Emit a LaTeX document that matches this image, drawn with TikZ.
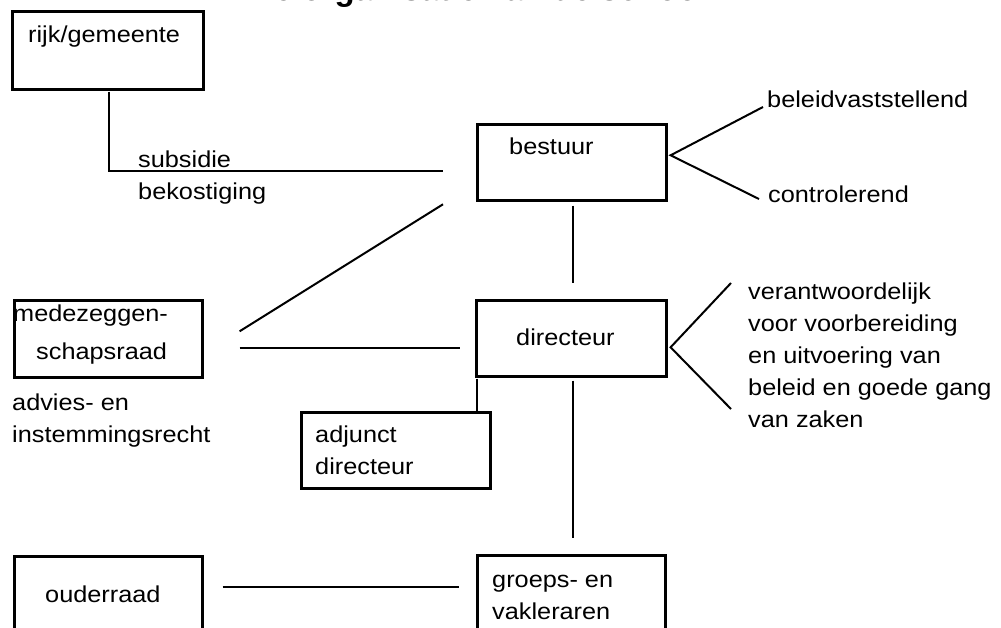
\documentclass[tikz,border=0pt]{standalone}
\usepackage{fontspec}
\setmainfont{Liberation Sans}[FakeStretch=1.1]
\newfontfamily\titelfont{Liberation Sans}
\usepackage{tikz}
\usetikzlibrary{calc}

\tikzset{
  vak/.style={rectangle, draw=black, line width=2.6pt, inner sep=0pt,
    anchor=north west},
  lijn/.style={draw=black, line width=2pt},
  tekst/.style={inner sep=0pt, anchor=base west, align=left,
    font=\fontsize{23}{32}\selectfont}
}

\begin{document}
\begin{tikzpicture}[x=1pt,y=-1pt]
\useasboundingbox (0,0) rectangle (1001,628);
\clip (0,0) rectangle (1001,628);
\node[inner sep=0pt, anchor=base west,
font=\titelfont\bfseries\fontsize{33}{40}\selectfont] (titel) at (250,1)
{De organisatie van de school};

\node[vak, minimum width=191pt, minimum height=78pt] (rijk) at (11,10) {};
\node[vak, minimum width=189pt, minimum height=76pt] (bestuur) at (476,123) {};
\node[vak, minimum width=190pt, minimum height=76pt] (directeur) at (475,299) {};
\node[vak, minimum width=188pt, minimum height=77pt] (mzr) at (13,299) {};
\node[vak, minimum width=189pt, minimum height=76pt] (adjunct) at (300,411) {};
\node[vak, minimum width=188pt, minimum height=100pt] (ouderraad) at (13,555) {};
\node[vak, minimum width=188pt, minimum height=100pt] (groeps) at (476,554) {};

% multi-line texts: base is the last line
\node[tekst] (rijktxt) at (28,43) {rijk/gemeente};
\node[tekst] (subsidie) at (138,200) {subsidie\\bekostiging};
\node[tekst] (bestuurtxt) at (509,155) {bestuur};
\node[tekst] (beleid) at (767,108) {beleidvaststellend};
\node[tekst] (controle) at (768,203) {controlerend};
\node[tekst] (directeurtxt) at (516,345) {directeur};
\node[tekst] (verantw) at (748,427) {verantwoordelijk\\voor voorbereiding\\
en uitvoering van\\beleid en goede gang\\van zaken};
\node[tekst] (mzrtxt) at (13,359) {medezeggen-\\[6pt]\hspace*{23pt}schapsraad};
\node[tekst] (advies) at (12,442) {advies- en\\instemmingsrecht};
\node[tekst] (adjuncttxt) at (315,474) {adjunct\\directeur};
\node[tekst] (ouderraadtxt) at (45,602) {ouderraad};
\node[tekst] (groepstxt) at (492,619) {groeps- en\\vakleraren};

\draw[lijn] ($(rijk.south)+(1.5,1)$) |- ($(bestuur.west)+(-33,9)$);
\draw[lijn] ($(beleid.base west)+(-4,-1)$) -- ($(bestuur.east)+(3,-7)$)
-- ($(controle.base west)+(-9,-4)$);
\draw[lijn] ($(bestuur.south)+(1.5,4)$) -- ($(bestuur.south |- directeur.north)+(1.5,-16)$);
\draw[lijn] ($(mzr.east)+(36,-7.5)$) -- ($(bestuur.west)+(-33,42)$);
\draw[lijn] ($(mzr.east)+(36,9.5)$) -- ($(directeur.west)+(-15,10)$);
\draw[lijn] ($(verantw.base west)+(-17,-144)$) -- ($(directeur.east)+(3,9)$)
-- ($(verantw.base west)+(-17,-18)$);
\draw[lijn] ($(directeur.south west)+(1.5,1)$) -- ($(directeur.south west |- adjunct.north)+(1.5,0)$);
\draw[lijn] ($(directeur.south)+(2,3)$) -- ($(directeur.south |- groeps.north)+(2,-16)$);
\draw[lijn] ($(ouderraad.north east)+(19,32)$) -- ($(groeps.north west)+(-17,33)$);
\end{tikzpicture}
\end{document}
